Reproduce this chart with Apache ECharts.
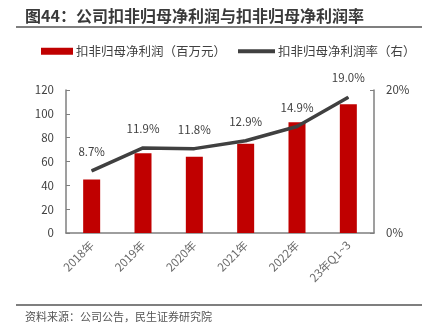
<!DOCTYPE html>
<html><head><meta charset="utf-8">
<script src="https://cdn.jsdelivr.net/npm/echarts@6/dist/echarts.min.js"></script>
<style>html,body{margin:0;padding:0;background:#fff}#c{width:437px;height:334px}</style>
</head><body><div id="c"></div>
<script>
const categories = ['2018年','2019年','2020年','2021年','2022年','23年Q1~3'];
const profit = [45, 67, 64, 75, 93, 108];
const margin = [8.7, 11.9, 11.8, 12.9, 14.9, 19.0];
const leftTicks = {min: 0, max: 120, interval: 20};
const rightTicks = {min: 0, max: 20, interval: 20};
const FONT = '"Noto Sans CJK SC","Noto Sans",sans-serif';
const chart = echarts.init(document.getElementById('c'));
chart.setOption({
  animation: false,
  textStyle: {fontFamily: FONT},
  graphic: [
    {type: 'text', left: 25, top: 8, style: {text: '图44：公司扣非归母净利润与扣非归母净利润率', font: 'bold 16px ' + FONT, fill: '#3a3a3a'}},
    {type: 'line', shape: {x1: 16, y1: 27, x2: 422, y2: 27}, style: {stroke: '#555', lineWidth: 1.5}},
    {type: 'line', shape: {x1: 16, y1: 305, x2: 422, y2: 305}, style: {stroke: '#555', lineWidth: 1.5}},
    {type: 'text', left: 25, top: 311, style: {text: '资料来源：公司公告，民生证券研究院', font: '11px ' + FONT, fill: '#555'}}
  ],
  legend: [
    {data: [{name: '扣非归母净利润（百万元）', icon: 'rect'}], left: 36, top: 40, itemWidth: 32, itemHeight: 7, itemGap: 4,
     textStyle: {fontSize: 12.5, color: '#404040', fontFamily: FONT, padding: [0,0,0,-2]}},
    {data: [{name: '扣非归母净利润率（右）', icon: 'rect'}], left: 233, top: 40, itemWidth: 37, itemHeight: 4,
     itemStyle: {color: '#404040'}, lineStyle: {opacity: 0},
     textStyle: {fontSize: 12.5, color: '#404040', fontFamily: FONT, padding: [0,0,0,-2]}}
  ],
  grid: {left: 66, right: 63, top: 90, bottom: 101, containLabel: false},
  xAxis: {
    type: 'category', data: categories,
    axisLine: {lineStyle: {color: '#7f7f7f', width: 1.5}},
    axisTick: {show: false},
    axisLabel: {rotate: 45, fontSize: 11.5, color: '#6a6a6a', margin: 10, interval: 0}
  },
  yAxis: [
    {type: 'value', min: leftTicks.min, max: leftTicks.max, interval: leftTicks.interval,
     splitLine: {show: false},
     axisLine: {show: true, lineStyle: {color: '#7f7f7f', width: 1.5}},
     axisTick: {show: true, inside: true, length: 4, lineStyle: {color: '#7f7f7f'}},
     axisLabel: {fontSize: 11.5, color: '#404040', margin: 12}},
    {type: 'value', min: rightTicks.min, max: rightTicks.max, interval: rightTicks.interval,
     splitLine: {show: false},
     axisLine: {show: true, lineStyle: {color: '#7f7f7f', width: 1.5}},
     axisTick: {show: true, inside: true, length: 4, lineStyle: {color: '#7f7f7f'}},
     axisLabel: {fontSize: 11.5, color: '#404040', margin: 12, formatter: '{value}%'}}
  ],
  series: [
    {name: '扣非归母净利润（百万元）', type: 'bar', data: profit, barWidth: 17,
     itemStyle: {color: '#c00000'}},
    {name: '扣非归母净利润率（右）', type: 'line', yAxisIndex: 1, data: margin,
     symbol: 'circle', symbolSize: 1, showSymbol: true,
     lineStyle: {color: '#404040', width: 3.5}, itemStyle: {color: '#404040'},
     label: {show: true, position: 'top', distance: 13, fontSize: 11.5, color: '#404040',
             formatter: p => p.value.toFixed(1) + '%'}}
  ]
});
</script></body></html>
